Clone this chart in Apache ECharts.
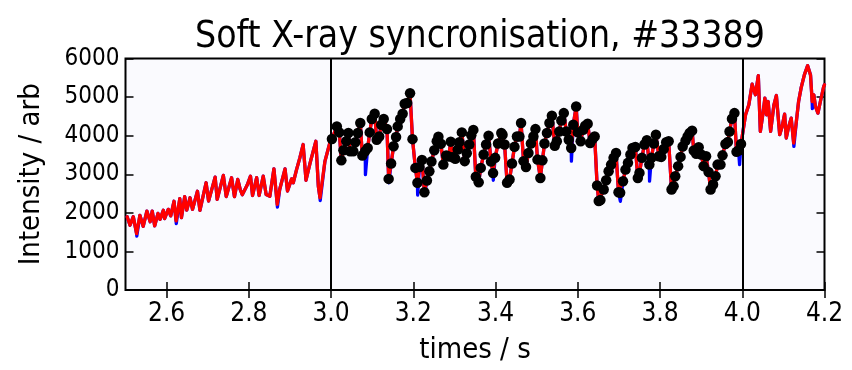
<!DOCTYPE html>
<html>
<head>
<meta charset="utf-8">
<script src="https://cdn.jsdelivr.net/npm/echarts/dist/echarts.min.js"></script>
<style>
  html, body { margin: 0; padding: 0; background: #ffffff; }
  #chart { width: 852px; height: 370px; }
</style>
</head>
<body>
<div id="chart"></div>
<script>
// Soft X-ray signal before the synchronised window, [time (s), intensity]
const redBefore = [
  [2.504,1900],[2.511,1680],[2.519,1900],[2.527,1460],[2.535,1935],[2.543,1650],[2.552,2045],[2.560,1770],
  [2.565,2045],[2.571,1660],[2.579,1985],[2.584,1830],[2.592,2065],[2.595,1850],[2.604,2090],[2.610,1920],
  [2.618,2300],[2.623,1790],[2.632,2365],[2.636,1875],[2.644,2420],[2.649,2070],[2.657,2390],[2.663,2090],
  [2.675,2560],[2.681,2065],[2.696,2780],[2.702,2305],[2.718,2925],[2.723,2350],[2.738,2970],[2.745,2420],
  [2.758,2910],[2.765,2420],[2.773,2865],[2.779,2605],[2.784,2470],[2.796,2720],[2.804,2950],[2.809,2450],
  [2.819,2910],[2.825,2450],[2.835,2950],[2.842,2475],[2.851,2430],[2.861,3140],[2.869,2220],[2.875,2605],
  [2.888,3140],[2.894,2565],[2.904,2880],[2.908,2780],[2.916,3120],[2.924,3425],[2.932,3770],[2.939,2845],
  [2.949,3295],[2.963,3855],[2.969,2690],[2.973,2390],[2.985,3335],[2.998,3855]
];

// Synchronised samples between 3.0 s and 4.0 s
const syncDots = [
  [3.002,3915],[3.014,4240],[3.020,4085],[3.025,3360],[3.030,3620],[3.037,3855],[3.042,4070],[3.046,3595],
  [3.054,3595],[3.059,3830],[3.065,4070],[3.071,4330],[3.076,3485],[3.083,3595],[3.089,3680],[3.094,4085],
  [3.099,4430],[3.106,4570],[3.111,3895],[3.117,3980],[3.122,4285],[3.128,4430],[3.136,4170],[3.140,2880],
  [3.146,3280],[3.152,3725],[3.158,3965],[3.162,4240],[3.168,4430],[3.174,4570],[3.179,4825],[3.185,4845],
  [3.192,5100],[3.198,3910],[3.205,3165],[3.210,2780],[3.215,3190],[3.221,3370],[3.227,2535],[3.233,2840],
  [3.239,3080],[3.244,3330],[3.251,3620],[3.257,3855],[3.261,3975],[3.267,3790],[3.273,3250],[3.280,3485],
  [3.286,3460],[3.291,3845],[3.296,3440],[3.302,3400],[3.308,3640],[3.312,3830],[3.318,4085],[3.325,3340],
  [3.330,3545],[3.336,3770],[3.341,4010],[3.346,4150],[3.352,2935],[3.359,2790],[3.364,3165],[3.371,3510],
  [3.377,3770],[3.383,4000],[3.389,3330],[3.394,3030],[3.399,3425],[3.406,3795],[3.414,4070],[3.417,4025],
  [3.422,3770],[3.428,2780],[3.434,2865],[3.440,3280],[3.446,3710],[3.452,3980],[3.458,3980],[3.462,4330],
  [3.468,3340],[3.474,3190],[3.480,3550],[3.486,3795],[3.492,3980],[3.497,4170],[3.502,3380],[3.509,2905],
  [3.514,3360],[3.519,3795],[3.525,4070],[3.531,4330],[3.537,4515],[3.544,3740],[3.549,3855],[3.555,4110],
  [3.560,4395],[3.566,4585],[3.572,4110],[3.578,3895],[3.584,3680],[3.589,4285],[3.596,4755],[3.600,4085],
  [3.607,3855],[3.613,4155],[3.618,4260],[3.624,4310],[3.630,3810],[3.636,3915],[3.641,3980],[3.647,2710],
  [3.651,2305],[3.655,2330],[3.663,2605],[3.669,2845],[3.675,3080],[3.681,3250],[3.687,3425],[3.693,3550],
  [3.699,2535],[3.703,2520],[3.710,2820],[3.716,3120],[3.722,3295],[3.728,3510],[3.733,3680],[3.740,3705],
  [3.746,2905],[3.750,3035],[3.756,3425],[3.762,3770],[3.768,3880],[3.774,3250],[3.779,3425],[3.785,3795],
  [3.790,4025],[3.797,3465],[3.803,3450],[3.809,3655],[3.815,3830],[3.821,3855],[3.828,2605],[3.833,2690],
  [3.837,2950],[3.844,3210],[3.850,3450],[3.855,3720],[3.862,3870],[3.867,3980],[3.872,4070],[3.878,4130],
  [3.882,3615],[3.888,3530],[3.894,3700],[3.900,3510],[3.906,3210],[3.912,3465],[3.918,3060],[3.923,2605],
  [3.929,2735],[3.935,2950],[3.940,3250],[3.947,3250],[3.952,3490],[3.959,3785],[3.965,3835],[3.969,4110],
  [3.975,4440],[3.981,4585],[3.986,3580],[3.991,3615],[3.997,3785]
];

// Signal after the synchronised window
const redAfter = [
  [4.000,3770],[4.008,4540],[4.016,4800],[4.024,5335],[4.032,5060],[4.039,5555],[4.044,4110],[4.051,4625],
  [4.055,4970],[4.059,4540],[4.063,4885],[4.069,4110],[4.077,4800],[4.083,5040],[4.091,4025],[4.097,4240],
  [4.103,4560],[4.107,3940],[4.113,4240],[4.119,4455],[4.125,3810],[4.132,4410],[4.137,4885],[4.143,5230],
  [4.151,5575],[4.159,5815],[4.166,5575],[4.170,4885],[4.174,5060],[4.178,4755],[4.184,4585],[4.190,4885],
  [4.198,5270],[4.200,5320]
];

// Points where the raw (blue) trace dips below the red one
const blueDips = [
  [2.5275,1400],[2.6235,1720],[2.852,2380],[2.8695,2150],[2.9735,2320],[3.0835,2990],[3.1405,2780],
  [3.2105,2460],[3.2275,2470],[3.3945,2845],[3.5845,3340],[3.7035,2300],[3.7745,2820],[3.9935,3250],
  [4.1255,3720],[4.1705,4700]
];

const xTicks = [2.6, 2.8, 3.0, 3.2, 3.4, 3.6, 3.8, 4.0, 4.2];
const windowEdges = [3.0, 4.0];

const FONT = "'DejaVu Sans Condensed', 'DejaVu Sans', sans-serif";

const redData = [...redBefore, ...syncDots, ...redAfter];
const blueData = [...redData, ...blueDips].sort((a, b) => a[0] - b[0]);

const chart = echarts.init(document.getElementById('chart'), null, { renderer: 'canvas' });

const tickStyle = { show: true, inside: true, length: 8, lineStyle: { color: '#000', width: 1.5 } };

chart.setOption({
  animation: false,
  backgroundColor: '#ffffff',
  title: {
    text: 'Soft X-ray syncronisation, #33389',
    left: 475,
    top: 14,
    textAlign: 'center',
    textStyle: { fontFamily: FONT, fontSize: 37, fontWeight: 'normal', color: '#000' }
  },
  grid: {
    left: 125.5, top: 58.5, width: 699, height: 232.5,
    show: true, borderColor: '#000', borderWidth: 2, backgroundColor: '#fafafe'
  },
  xAxis: [
    {
      type: 'value', min: 2.5, max: 4.2, position: 'bottom',
      name: 'times / s', nameLocation: 'middle', nameGap: 46,
      nameTextStyle: { fontFamily: FONT, fontSize: 29, color: '#000' },
      axisLine: { show: false },
      axisTick: Object.assign({ customValues: xTicks }, tickStyle),
      axisLabel: {
        customValues: xTicks, margin: 11,
        fontFamily: FONT, fontSize: 26, color: '#000',
        formatter: v => v.toFixed(1)
      },
      splitLine: { show: false }
    },
    {
      type: 'value', min: 2.5, max: 4.2, position: 'top',
      axisLine: { show: false },
      axisTick: Object.assign({ customValues: xTicks }, tickStyle),
      axisLabel: { show: false },
      splitLine: { show: false }
    }
  ],
  yAxis: [
    {
      type: 'value', min: 0, max: 6000, interval: 1000, position: 'left',
      name: 'Intensity / arb', nameLocation: 'middle', nameGap: 80,
      nameTextStyle: { fontFamily: FONT, fontSize: 29, color: '#000' },
      axisLine: { show: false },
      axisTick: tickStyle,
      axisLabel: {
        margin: 6, fontFamily: FONT, fontSize: 24, color: '#000',
        formatter: v => String(v)
      },
      splitLine: { show: false }
    },
    {
      type: 'value', min: 0, max: 6000, interval: 1000, position: 'right',
      axisLine: { show: false },
      axisTick: tickStyle,
      axisLabel: { show: false },
      splitLine: { show: false }
    }
  ],
  series: [
    {
      name: 'raw', type: 'line', data: blueData, showSymbol: false, z: 2,
      lineStyle: { color: '#0000ff', width: 3.3, join: 'round', cap: 'round' },
      markLine: {
        silent: true, symbol: 'none', label: { show: false },
        lineStyle: { color: '#000', width: 2, type: 'solid' },
        data: windowEdges.map(x => ({ xAxis: x }))
      }
    },
    {
      name: 'filtered', type: 'line', data: redData, showSymbol: false, z: 3,
      lineStyle: { color: '#ff0000', width: 3.3, join: 'round', cap: 'round' }
    },
    {
      name: 'sync', type: 'scatter', data: syncDots, z: 4,
      symbol: 'circle', symbolSize: 10.5,
      itemStyle: { color: '#000', opacity: 1 }
    }
  ]
});
</script>
</body>
</html>
